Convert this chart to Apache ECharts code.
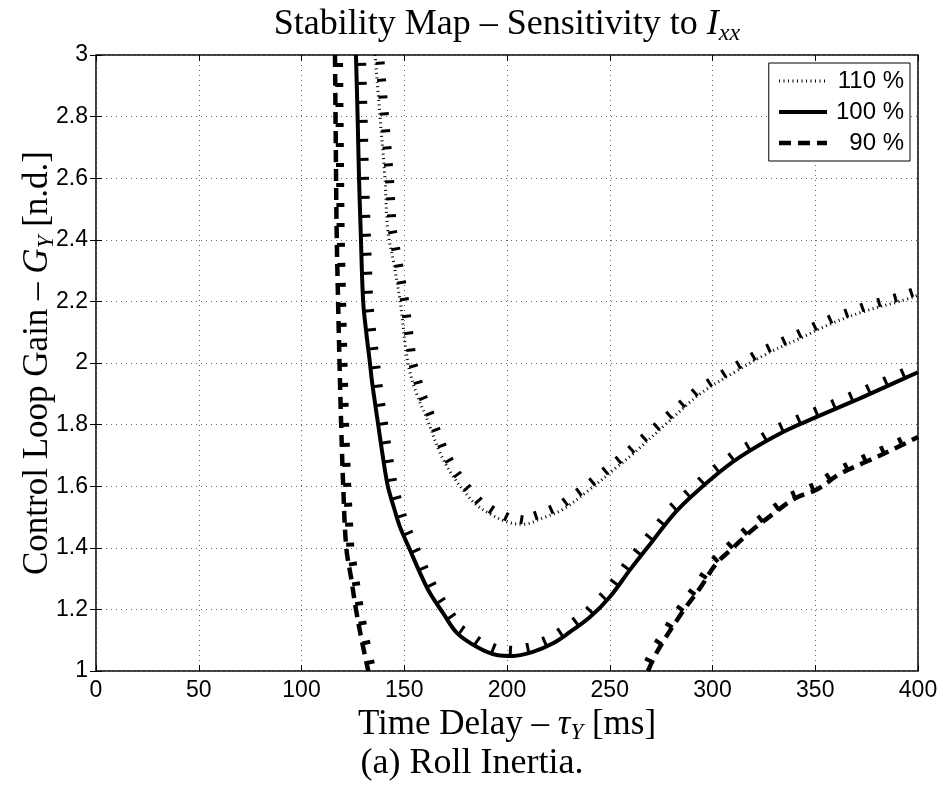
<!DOCTYPE html>
<html>
<head>
<meta charset="utf-8">
<script src="https://cdn.jsdelivr.net/npm/echarts@6/dist/echarts.min.js"></script>
<style>
html, body { margin: 0; padding: 0; background: #fff; }
#chart { width: 943px; height: 790px; }
</style>
</head>
<body>
<div id="chart"></div>
<script>
// curve values (delay in ms, gain n.d.)
var delay110 = [135.8, 138.2, 140.6, 142, 145, 148, 151.8, 156, 161, 167.4, 173, 178.6, 185, 191.7, 200, 207.8, 217.5, 227.2, 240.4, 253.5, 261.3, 277.9, 294, 310, 326.5, 342.6, 358.6, 375, 391, 400];
var gain110 = [3.0, 2.8, 2.6, 2.43, 2.32, 2.2, 2.0, 1.9, 1.82, 1.708, 1.64, 1.588, 1.54, 1.51, 1.484, 1.476, 1.497, 1.525, 1.59, 1.662, 1.705, 1.805, 1.9, 1.967, 2.03, 2.08, 2.13, 2.17, 2.2, 2.22];

var delay100 = [126.5, 127.3, 128, 128.8, 130, 131.5, 133.3, 134.3, 137.2, 139.5, 142, 145, 147.9, 152.8, 157.7, 162.5, 168.9, 175.7, 185.4, 195, 203, 212.6, 222.4, 230.7, 240.4, 250, 260, 270, 282.6, 298.8, 313.4, 334.3, 350.7, 370, 385, 400];
var gain100 = [3.0, 2.8, 2.6, 2.43, 2.2, 2.1, 2.0, 1.94, 1.805, 1.7, 1.6, 1.53, 1.468, 1.393, 1.318, 1.253, 1.188, 1.123, 1.078, 1.052, 1.049, 1.062, 1.09, 1.127, 1.175, 1.24, 1.33, 1.415, 1.52, 1.62, 1.695, 1.776, 1.825, 1.88, 1.925, 1.97];

var delay90a = [116.3, 116.7, 117.1, 117.8, 118.5, 119.3, 120.3, 121.8, 124.2, 126.5, 129.3, 132.5];
var gain90a = [3.0, 2.7, 2.43, 2.2, 2.0, 1.8, 1.6, 1.4, 1.3, 1.2, 1.1, 1.0];
var delay90b = [268.6, 273.5, 285, 294, 302, 310, 318, 329.5, 340, 351, 362, 375, 388, 400];
var gain90b = [1.0, 1.068, 1.188, 1.27, 1.35, 1.4, 1.45, 1.51, 1.56, 1.59, 1.64, 1.68, 1.72, 1.76];

var seriesNames = ['110 %', '100 %', '90 %'];

function pairs(xs, ys) {
    var out = [];
    for (var i = 0; i < xs.length; i++) {
        out.push([xs[i], ys[i]]);
    }
    return out;
}

var style110 = {color: '#000', width: 3, type: [1, 3.5]};
var style100 = {color: '#000', width: 4, type: 'solid'};
var style90 = {color: '#000', width: 4.5, type: [12, 7]};

// hatch marks on the stable side of each boundary
var hatches = [
    {x: delay110, y: gain110, spacing: 17, len: 9, width: 3},
    {x: delay100, y: gain100, spacing: 19, len: 10, width: 3},
    {x: delay90a, y: gain90a, spacing: 20, len: 8, width: 4},
    {x: delay90b, y: gain90b, spacing: 20, len: 8, width: 4}
];

function renderHatch(params, api) {
    var h = hatches[api.value(2)];
    var pts = [];
    for (var i = 0; i < h.x.length; i++) {
        pts.push(api.coord([h.x[i], h.y[i]]));
    }
    var children = [];
    var acc = h.spacing / 2;
    for (var j = 1; j < pts.length; j++) {
        var ax = pts[j - 1][0], ay = pts[j - 1][1];
        var dx = pts[j][0] - ax, dy = pts[j][1] - ay;
        var L = Math.sqrt(dx * dx + dy * dy);
        if (L === 0) continue;
        var ux = dx / L, uy = dy / L;
        while (acc <= L) {
            var px = ax + ux * acc, py = ay + uy * acc;
            children.push({
                type: 'line',
                shape: {x1: px, y1: py, x2: px + uy * h.len, y2: py - ux * h.len},
                style: {stroke: '#000', lineWidth: h.width}
            });
            acc += h.spacing;
        }
        acc -= L;
    }
    return {type: 'group', children: children};
}

var serif = 'Liberation Serif';
var sans = '"Liberation Sans", Arial, sans-serif';

var mathRich = {
    n: {fontFamily: serif, fontSize: 35, lineHeight: 40, color: '#000'},
    i: {fontFamily: serif, fontSize: 35, fontStyle: 'italic', lineHeight: 40, color: '#000'},
    s: {fontFamily: serif, fontSize: 23, fontStyle: 'italic', verticalAlign: 'bottom', color: '#000'}
};

var chart = echarts.init(document.getElementById('chart'), null, {renderer: 'canvas'});

var option = {
    backgroundColor: '#fff',
    animation: false,
    grid: {
        left: 96, right: 25, top: 55, bottom: 119,
        show: true, borderColor: '#000', borderWidth: 1.5
    },
    legend: {
        data: [
            {name: seriesNames[0], lineStyle: style110},
            {name: seriesNames[1], lineStyle: style100},
            {name: seriesNames[2], lineStyle: style90}
        ],
        orient: 'vertical',
        right: 33, top: 63,
        itemWidth: 48, itemHeight: 14, itemGap: 7,
        padding: [6, 6, 6, 8],
        backgroundColor: '#fff',
        borderColor: '#000', borderWidth: 1,
        itemStyle: {color: 'rgba(0,0,0,0)', borderWidth: 0},
        formatter: function (name) { return '{r|' + name + '}'; },
        textStyle: {
            rich: {r: {width: 72, align: 'right', fontFamily: sans, fontSize: 24, lineHeight: 25, color: '#000'}}
        }
    },
    xAxis: [{
        type: 'value', min: 0, max: 400, interval: 50,
        axisLine: {show: false},
        axisTick: {inside: true, length: 6, lineStyle: {color: '#000', width: 1}},
        axisLabel: {fontFamily: sans, fontSize: 23, color: '#000', margin: 8},
        splitLine: {lineStyle: {color: '#666', width: 1, type: [1, 4]}},
        name: '{n|Time Delay – }{i|τ}{s|Y}{n| [ms]}',
        nameLocation: 'middle', nameGap: 30,
        nameTextStyle: {rich: mathRich}
    }, {
        type: 'value', min: 0, max: 400, interval: 50, position: 'top',
        axisLine: {show: false},
        axisTick: {inside: true, length: 6, lineStyle: {color: '#000', width: 1}},
        axisLabel: {show: false}, splitLine: {show: false}
    }],
    yAxis: [{
        type: 'value', min: 1, max: 3, interval: 0.2,
        axisLine: {show: false},
        axisTick: {inside: true, length: 6, lineStyle: {color: '#000', width: 1}},
        axisLabel: {fontFamily: sans, fontSize: 23, color: '#000', margin: 8},
        splitLine: {lineStyle: {color: '#666', width: 1, type: [1, 4]}},
        name: '{n|Control Loop Gain – }{i|G}{s|Y}{n| [n.d.]}',
        nameLocation: 'middle', nameGap: 38, nameRotate: 90, nameMoveOverlap: false,
        nameTextStyle: {rich: mathRich}
    }, {
        type: 'value', min: 1, max: 3, interval: 0.2, position: 'right',
        axisLine: {show: false},
        axisTick: {inside: true, length: 6, lineStyle: {color: '#000', width: 1}},
        axisLabel: {show: false}, splitLine: {show: false}
    }],
    series: [{
        name: '110 %', type: 'line', symbol: 'none', smooth: 0.35,
        data: pairs(delay110, gain110),
        lineStyle: style110,
        itemStyle: {color: '#000'}
    }, {
        name: '100 %', type: 'line', symbol: 'none', smooth: 0.35,
        data: pairs(delay100, gain100),
        lineStyle: style100,
        itemStyle: {color: '#000'}
    }, {
        name: '90 %', type: 'line', symbol: 'none', smooth: 0.35,
        data: pairs(delay90a, gain90a),
        lineStyle: style90,
        itemStyle: {color: '#000'}
    }, {
        name: '90 %', type: 'line', symbol: 'none', smooth: 0.35,
        data: pairs(delay90b, gain90b),
        lineStyle: style90,
        itemStyle: {color: '#000'}
    }, {
        name: 'hatch', type: 'custom', clip: true,
        renderItem: renderHatch,
        encode: {x: 0, y: 1},
        data: [
            [delay110[0], gain110[0], 0],
            [delay100[0], gain100[0], 1],
            [delay90a[0], gain90a[0], 2],
            [delay90b[0], gain90b[0], 3]
        ]
    }],
    graphic: [{
        type: 'text', x: 507, y: 25,
        style: {
            text: '{n|Stability Map – Sensitivity to }{i|I}{s|xx}',
            rich: {
                n: {fontFamily: serif, fontSize: 36, lineHeight: 42, color: '#000'},
                i: {fontFamily: serif, fontSize: 36, fontStyle: 'italic', lineHeight: 42, color: '#000'},
                s: {fontFamily: serif, fontSize: 24, fontStyle: 'italic', verticalAlign: 'bottom', color: '#000'}
            },
            align: 'center', verticalAlign: 'middle'
        }
    }, {
        type: 'text', x: 472, y: 764,
        style: {
            text: '(a) Roll Inertia.',
            fontFamily: serif, fontSize: 36, fill: '#000',
            align: 'center', verticalAlign: 'middle'
        }
    }]
};

chart.setOption(option);
</script>
</body>
</html>
